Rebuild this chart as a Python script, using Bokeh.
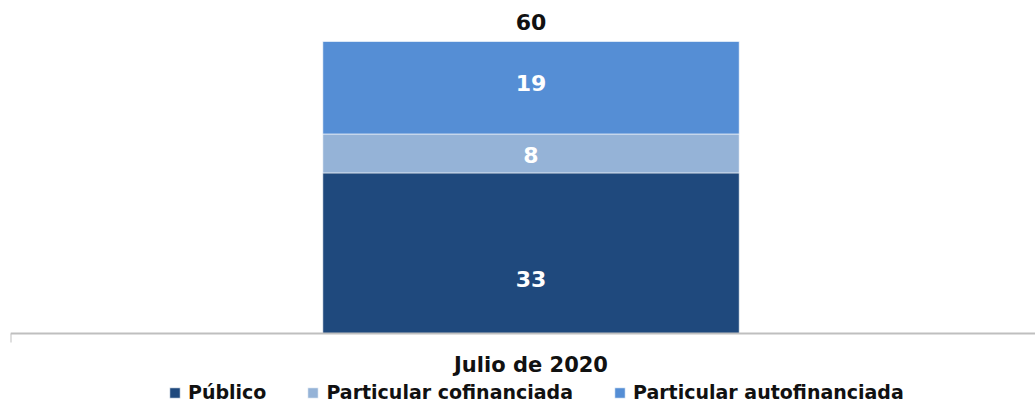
from bokeh.plotting import figure
from bokeh.models import ColumnDataSource, Range1d, FixedTicker
from bokeh.embed import file_html
from bokeh.resources import INLINE
from bokeh.core.properties import value

# ---- data ----
categories = ["Julio de 2020"]
series_names = ["Público", "Particular cofinanciada", "Particular autofinanciada"]
publico = [33]
cofinanciada = [8]
autofinanciada = [19]

# ---- style ----
colors = ["#1F497D", "#95B3D7", "#558ED5"]
FONT = "DejaVu Sans"
label_dy = [26, 2, -5]  # small visual offsets of segment labels (px)

xs = [i + 0.5 for i in range(len(categories))]
series_vals = [publico, cofinanciada, autofinanciada]
totals = [sum(v) for v in zip(*series_vals)]

data = {"x": xs}
for name, vals in zip(series_names, series_vals):
    data[name] = vals
source = ColumnDataSource(data)

p = figure(width=1035, height=403, output_backend="svg", toolbar_location=None,
           x_range=Range1d(0, 0.9846), y_range=Range1d(-14.38, 68.42),
           y_axis_location=None,
           min_border_left=10, min_border_right=0, min_border_top=0, min_border_bottom=0)
p.outline_line_color = None
p.grid.visible = False

p.vbar_stack(series_names, x="x", width=0.4, color=colors, line_color="white",
             line_width=0.6, source=source, legend_label=series_names)

# segment labels
bottoms = [0] * len(xs)
for vals, dy in zip(series_vals, label_dy):
    mids = [b + v / 2 for b, v in zip(bottoms, vals)]
    p.text(x=xs, y=mids, text=[str(v) for v in vals], text_color="white",
           text_font=value(FONT), text_font_style="bold", text_font_size="22px",
           text_align="center", text_baseline="middle", y_offset=dy)
    bottoms = [b + v for b, v in zip(bottoms, vals)]

# total label
p.text(x=xs, y=totals, text=[str(t) for t in totals], text_color="#111111",
       text_font=value(FONT), text_font_style="bold", text_font_size="22px",
       text_align="center", text_baseline="middle", y_offset=-19)

# x axis
ax = p.xaxis[0]
ax.fixed_location = 0
ax.ticker = FixedTicker(ticks=xs, minor_ticks=[0, 1])
ax.major_label_overrides = {x: c for x, c in zip(xs, categories)}
ax.axis_line_color = "#BFBFBF"
ax.axis_line_width = 2
ax.major_tick_line_color = None
ax.major_tick_out = 0
ax.major_tick_in = 0
ax.minor_tick_line_color = "#BFBFBF"
ax.minor_tick_line_width = 2
ax.minor_tick_out = 9
ax.minor_tick_in = 0
ax.major_label_standoff = 10
ax.major_label_text_font = FONT
ax.major_label_text_font_style = "bold"
ax.major_label_text_font_size = "21px"
ax.major_label_text_color = "#111111"

lg = p.legend[0]
lg.location = (158, 0)
lg.orientation = "horizontal"
lg.border_line_color = None
lg.background_fill_alpha = 0
lg.padding = 0
lg.margin = 0
lg.spacing = 40
lg.glyph_width = 13
lg.glyph_height = 13
lg.label_height = 13
lg.label_standoff = 7
lg.label_text_font = FONT
lg.label_text_font_style = "bold"
lg.label_text_font_size = "19px"
lg.label_text_color = "#111111"

open("out.html", "w").write(file_html(p, INLINE))
